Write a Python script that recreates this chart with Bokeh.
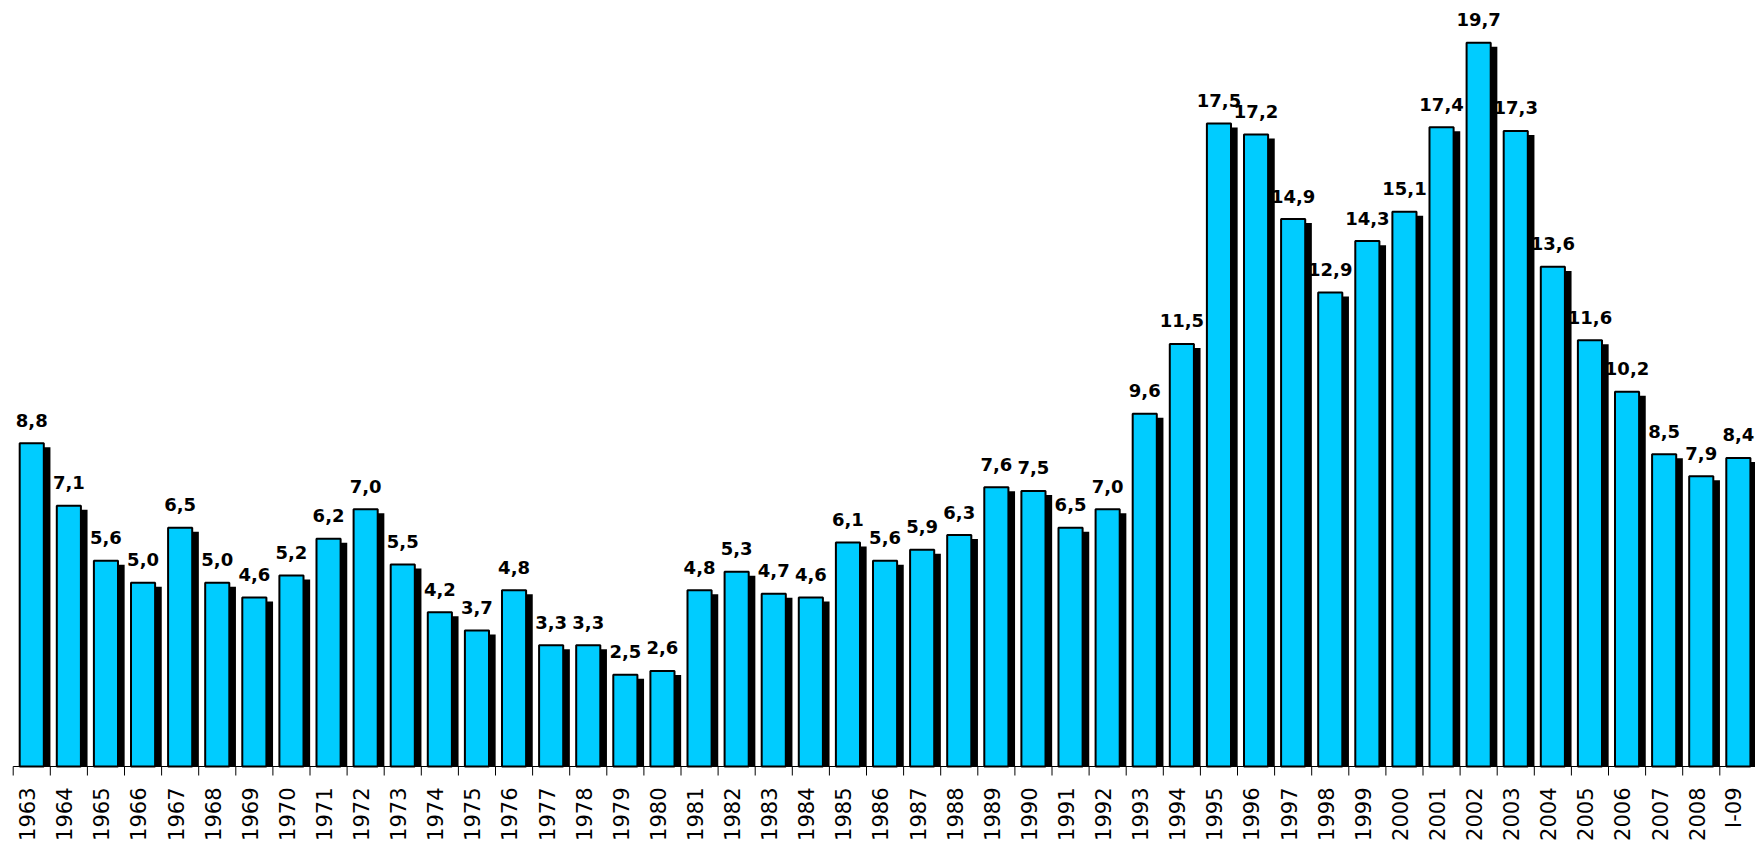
import math
from bokeh.plotting import figure
from bokeh.models import ColumnDataSource, Range1d
from bokeh.core.properties import value
from bokeh.embed import file_html
from bokeh.resources import INLINE

years = ["1963", "1964", "1965", "1966", "1967", "1968", "1969", "1970", "1971", "1972",
         "1973", "1974", "1975", "1976", "1977", "1978", "1979", "1980", "1981", "1982",
         "1983", "1984", "1985", "1986", "1987", "1988", "1989", "1990", "1991", "1992",
         "1993", "1994", "1995", "1996", "1997", "1998", "1999", "2000", "2001", "2002",
         "2003", "2004", "2005", "2006", "2007", "2008", "I-09"]
values = [8.8, 7.1, 5.6, 5.0, 6.5, 5.0, 4.6, 5.2, 6.2, 7.0,
          5.5, 4.2, 3.7, 4.8, 3.3, 3.3, 2.5, 2.6, 4.8, 5.3,
          4.7, 4.6, 6.1, 5.6, 5.9, 6.3, 7.6, 7.5, 6.5, 7.0,
          9.6, 11.5, 17.5, 17.2, 14.9, 12.9, 14.3, 15.1, 17.4, 19.7,
          17.3, 13.6, 11.6, 10.2, 8.5, 7.9, 8.4]

n = len(years)
idx = list(range(n))
labels = [("%.1f" % v).replace(".", ",") for v in values]

WIDTH, HEIGHT = 1755, 843
PX_Y = 36.74        # pixels per unit on the value axis
PX_X = 37.1         # pixels per category
LEFT = 12.7         # pixel column of the first category boundary
AXIS_Y = 766        # pixel row of the zero line, from the top of the figure
TICK_LEN = 9 / PX_Y
LABEL_GAP = 21 / PX_Y

src = ColumnDataSource(dict(
    x=idx,
    xs=[i + 0.154 for i in idx],
    xl=[i - 0.125 for i in idx],
    top=values,
    stop=[v - 0.11 for v in values],
    label=labels,
    year=years,
))
ticks = ColumnDataSource(dict(x=[i - 0.5 for i in range(n + 1)]))

x0 = -0.5 - LEFT / PX_X
p = figure(width=WIDTH, height=HEIGHT,
           x_range=Range1d(x0, x0 + WIDTH / PX_X),
           y_range=Range1d(-(HEIGHT - AXIS_Y) / PX_Y, AXIS_Y / PX_Y),
           output_backend="svg", toolbar_location=None,
           x_axis_location=None, y_axis_location=None,
           min_border_left=0, min_border_right=0, min_border_top=0, min_border_bottom=0)
p.outline_line_color = None
p.grid.visible = False
p.background_fill_color = "white"
p.border_fill_color = "white"

p.vbar(x="xs", top="stop", bottom=0, width=0.70, source=src,
       fill_color="black", line_color=None)
p.vbar(x="x", top="top", bottom=0, width=0.65, source=src,
       fill_color="#00CCFF", line_color="black", line_width=2)
p.text(x="x", y="top", text="label", source=src,
       text_font=value("DejaVu Sans"), text_font_style="bold", text_font_size="18px",
       text_align="center", text_baseline="alphabetic", y_offset=-23, text_color="black")

# category axis: baseline, boundary ticks and rotated year labels
p.segment(x0=-0.5, y0=0, x1=n - 0.5, y1=0, line_color="black", line_width=1)
p.segment(x0="x", y0=0, x1="x", y1=-TICK_LEN, source=ticks, line_color="black", line_width=1)
p.text(x="xl", y=-LABEL_GAP, text="year", source=src, angle=math.pi / 2,
       text_align="right", text_baseline="middle",
       text_font=value("DejaVu Sans"), text_font_size="21px", text_color="black")

open("out.html", "w").write(file_html(p, INLINE))
